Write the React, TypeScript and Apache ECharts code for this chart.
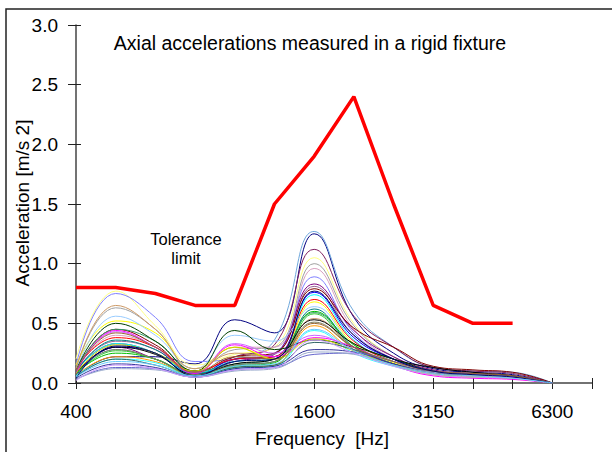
import React, { useEffect, useRef } from "react";
import * as echarts from "echarts";

const categories = ["400", "500", "630", "800", "1000", "1250", "1600", "2000", "2500", "3150", "4000", "5000", "6300", "8000"];
const shownLabels = ["400", "800", "1600", "3150", "6300"];
const yTicks = [0, 0.5, 1.0, 1.5, 2.0, 2.5, 3.0];

const tolerance = [0.8, 0.8, 0.75, 0.65, 0.65, 1.5, 1.9, 2.4, 1.5, 0.65, 0.5, 0.5];

// measured curves, values at 400 ... 6300 Hz
const c01 = [0.05, 0.22, 0.22, 0.16, 0.53, 0.42, 1.25, 0.55, 0.25, 0.12, 0.09, 0.07, 0];
const c02 = [0.08, 0.28, 0.2, 0.08, 0.2, 0.36, 1.27, 0.6, 0.3, 0.13, 0.1, 0.09, 0];
const c03 = [0.1, 0.33, 0.25, 0.08, 0.22, 0.32, 1.12, 0.56, 0.3, 0.13, 0.1, 0.08, 0];
const c04 = [0.2, 0.77, 0.48, 0.15, 0.24, 0.3, 1.05, 0.5, 0.22, 0.11, 0.08, 0.06, 0];
const c05 = [0.12, 0.63, 0.45, 0.1, 0.28, 0.3, 1.0, 0.48, 0.22, 0.1, 0.08, 0.06, 0];
const c06 = [0.1, 0.4, 0.3, 0.09, 0.3, 0.3, 0.96, 0.45, 0.2, 0.1, 0.07, 0.05, 0];
const c07 = [0.15, 0.75, 0.55, 0.18, 0.2, 0.25, 0.89, 0.42, 0.2, 0.1, 0.08, 0.06, 0];
const c08 = [0.08, 0.3, 0.2, 0.07, 0.18, 0.24, 0.83, 0.44, 0.22, 0.11, 0.08, 0.06, 0];
const c09 = [0.1, 0.35, 0.28, 0.08, 0.2, 0.24, 0.81, 0.4, 0.2, 0.1, 0.08, 0.06, 0];
const c10 = [0.1, 0.45, 0.32, 0.09, 0.22, 0.25, 0.79, 0.46, 0.3, 0.14, 0.11, 0.09, 0];
const c11 = [0.06, 0.3, 0.25, 0.07, 0.2, 0.22, 0.76, 0.38, 0.2, 0.1, 0.07, 0.05, 0];
const c12 = [0.1, 0.33, 0.25, 0.08, 0.18, 0.2, 0.74, 0.36, 0.18, 0.09, 0.07, 0.05, 0];
const c13 = [0.12, 0.38, 0.3, 0.1, 0.2, 0.22, 0.7, 0.35, 0.18, 0.09, 0.07, 0.05, 0];
const c14 = [0.15, 0.52, 0.42, 0.12, 0.3, 0.2, 0.68, 0.33, 0.17, 0.08, 0.06, 0.04, 0];
const c15 = [0.1, 0.56, 0.4, 0.12, 0.4, 0.35, 0.64, 0.32, 0.18, 0.09, 0.07, 0.05, 0];
const c16 = [0.09, 0.36, 0.28, 0.08, 0.15, 0.18, 0.62, 0.3, 0.16, 0.08, 0.06, 0.04, 0];
const c17 = [0.08, 0.25, 0.2, 0.07, 0.14, 0.17, 0.6, 0.32, 0.16, 0.08, 0.06, 0.04, 0];
const c18 = [0.1, 0.45, 0.35, 0.1, 0.16, 0.2, 0.59, 0.3, 0.15, 0.08, 0.06, 0.04, 0];
const c19 = [0.07, 0.27, 0.2, 0.06, 0.13, 0.15, 0.58, 0.28, 0.15, 0.08, 0.05, 0.04, 0];
const c20 = [0.12, 0.65, 0.45, 0.12, 0.25, 0.22, 0.54, 0.3, 0.16, 0.08, 0.06, 0.05, 0];
const c21 = [0.08, 0.3, 0.24, 0.07, 0.16, 0.2, 0.53, 0.33, 0.2, 0.13, 0.09, 0.06, 0];
const c22 = [0.1, 0.28, 0.2, 0.07, 0.15, 0.18, 0.51, 0.3, 0.16, 0.08, 0.06, 0.04, 0];
const c23 = [0.06, 0.22, 0.18, 0.06, 0.12, 0.15, 0.48, 0.27, 0.15, 0.08, 0.06, 0.04, 0];
const c24 = [0.06, 0.2, 0.17, 0.06, 0.12, 0.14, 0.44, 0.25, 0.14, 0.07, 0.05, 0.04, 0];
const c25 = [0.1, 0.5, 0.35, 0.1, 0.44, 0.28, 0.36, 0.3, 0.2, 0.1, 0.07, 0.05, 0];
const c26 = [0.08, 0.44, 0.3, 0.08, 0.32, 0.22, 0.38, 0.3, 0.15, 0.06, 0.04, 0.03, 0];
const c27 = [0.1, 0.43, 0.3, 0.09, 0.33, 0.25, 0.4, 0.28, 0.15, 0.07, 0.05, 0.04, 0];
const c28 = [0.08, 0.32, 0.25, 0.1, 0.3, 0.2, 0.37, 0.27, 0.15, 0.07, 0.05, 0.04, 0];
const c29 = [0.05, 0.2, 0.15, 0.06, 0.13, 0.15, 0.34, 0.28, 0.16, 0.09, 0.07, 0.05, 0];
const c30 = [0.04, 0.16, 0.13, 0.05, 0.12, 0.14, 0.28, 0.26, 0.16, 0.09, 0.07, 0.05, 0];
const c31 = [0.03, 0.13, 0.12, 0.05, 0.11, 0.13, 0.24, 0.25, 0.18, 0.1, 0.07, 0.05, 0];
const c32 = [0.03, 0.12, 0.11, 0.05, 0.1, 0.12, 0.26, 0.24, 0.15, 0.09, 0.07, 0.05, 0];
const c33 = [0.02, 0.15, 0.12, 0.05, 0.11, 0.13, 0.36, 0.25, 0.14, 0.07, 0.05, 0.04, 0];
const c34 = [0.1, 0.42, 0.3, 0.09, 0.22, 0.2, 0.5, 0.3, 0.18, 0.1, 0.08, 0.06, 0];
const c35 = [0.04, 0.31, 0.25, 0.06, 0.18, 0.2, 0.77, 0.4, 0.2, 0.1, 0.07, 0.05, 0];
const c36 = [0.05, 0.18, 0.15, 0.06, 0.14, 0.16, 0.45, 0.27, 0.15, 0.08, 0.06, 0.04, 0];

const curves = [c01, c02, c03, c04, c05, c06, c07, c08, c09, c10, c11, c12, c13, c14, c15, c16, c17, c18,
  c19, c20, c21, c22, c23, c24, c25, c26, c27, c28, c29, c30, c31, c32, c33, c34, c35, c36];

const curveColors = ["#000080", "#6fa8dc", "#7f1f5f", "#ffff80", "#a0a0a0", "#d9a0c0", "#8080ff", "#800080",
  "#996699", "#800000", "#0000ff", "#00ffff", "#ff0000", "#ffff00", "#99ccff", "#008080", "#00c000", "#339966",
  "#33cc33", "#cc9966", "#000000", "#808060", "#ff9900", "#33ffff", "#004000", "#ff00ff", "#cc66ff", "#cccc00",
  "#336666", "#333399", "#6666cc", "#99aacc", "#cc99ff", "#996633", "#000066", "#66ccff"];

const FONT = "Arial, 'Liberation Sans', sans-serif";

export default function App() {
  const ref = useRef<HTMLDivElement>(null);
  useEffect(() => {
    if (!ref.current) return;
    const chart = echarts.init(ref.current, null, { renderer: "svg" });
    const series: any[] = curves.map((d, i) => ({
      type: "line",
      data: d,
      smooth: 0.45,
      symbol: "none",
      lineStyle: { width: 1, color: curveColors[i] },
      z: 2,
    }));
    series.push({
      type: "line",
      data: tolerance,
      symbol: "none",
      lineStyle: { width: 3.5, color: "#ff0000" },
      z: 3,
    });
    chart.setOption({
      animation: false,
      backgroundColor: "#ffffff",
      grid: { left: 76, right: 20, top: 25, bottom: 69, containLabel: false },
      xAxis: [
        {
          type: "category",
          data: categories,
          boundaryGap: false,
          axisLine: { lineStyle: { color: "#444", width: 1.5 } },
          axisTick: { show: true, interval: 0, length: 6, lineStyle: { color: "#222" } },
          axisLabel: {
            interval: 0,
            margin: 19,
            fontSize: 19,
            color: "#000",
            fontFamily: FONT,
            formatter: (v: string) => (shownLabels.includes(v) ? v : ""),
          },
          splitLine: { show: false },
        },
        {
          type: "category",
          data: categories,
          boundaryGap: false,
          position: "bottom",
          axisLine: { show: false },
          axisTick: { show: true, inside: true, interval: 0, length: 5, lineStyle: { color: "#222" } },
          axisLabel: { show: false },
          splitLine: { show: false },
        },
      ],
      yAxis: [
        {
          type: "value",
          min: 0,
          max: 3,
          interval: 0.5,
          axisLine: { show: true, lineStyle: { color: "#444", width: 1.5 } },
          axisTick: { show: true, length: 8, lineStyle: { color: "#222" } },
          axisLabel: {
            margin: 18,
            fontSize: 19,
            color: "#000",
            fontFamily: FONT,
            formatter: (v: number) => (yTicks.includes(v) ? v.toFixed(1) : ""),
          },
          splitLine: { show: false },
        },
        {
          type: "value",
          min: 0,
          max: 3,
          interval: 0.5,
          position: "left",
          axisLine: { show: false },
          axisTick: { show: true, inside: true, length: 5, lineStyle: { color: "#222" } },
          axisLabel: { show: false },
          splitLine: { show: false },
        },
      ],
      series,
      graphic: [
        {
          type: "rect",
          shape: { x: 6, y: 9, width: 640, height: 480 },
          style: { fill: "none", stroke: "#222", lineWidth: 1.5 },
          silent: true,
          z: 0,
        },
        {
          type: "text",
          x: 310,
          y: 43,
          style: {
            text: "Axial accelerations measured in a rigid fixture",
            font: `19.5px ${FONT}`,
            fill: "#000",
            align: "center",
            verticalAlign: "middle",
          },
        },
        {
          type: "text",
          x: 186,
          y: 239,
          style: { text: "Tolerance", font: `16.5px ${FONT}`, fill: "#000", align: "center", verticalAlign: "middle" },
        },
        {
          type: "text",
          x: 186,
          y: 258,
          style: { text: "limit", font: `16.5px ${FONT}`, fill: "#000", align: "center", verticalAlign: "middle" },
        },
        {
          type: "text",
          x: 322,
          y: 438,
          style: { text: "Frequency  [Hz]", font: `19px ${FONT}`, fill: "#000", align: "center", verticalAlign: "middle" },
        },
        {
          type: "text",
          x: 22,
          y: 203,
          rotation: Math.PI / 2,
          style: { text: "Acceleration [m/s 2]", font: `19px ${FONT}`, fill: "#000", align: "center", verticalAlign: "middle" },
        },
      ],
    });
    return () => chart.dispose();
  }, []);
  return <div ref={ref} style={{ position: "fixed", left: 0, top: 0, width: 612, height: 452, background: "#fff" }} />;
}
